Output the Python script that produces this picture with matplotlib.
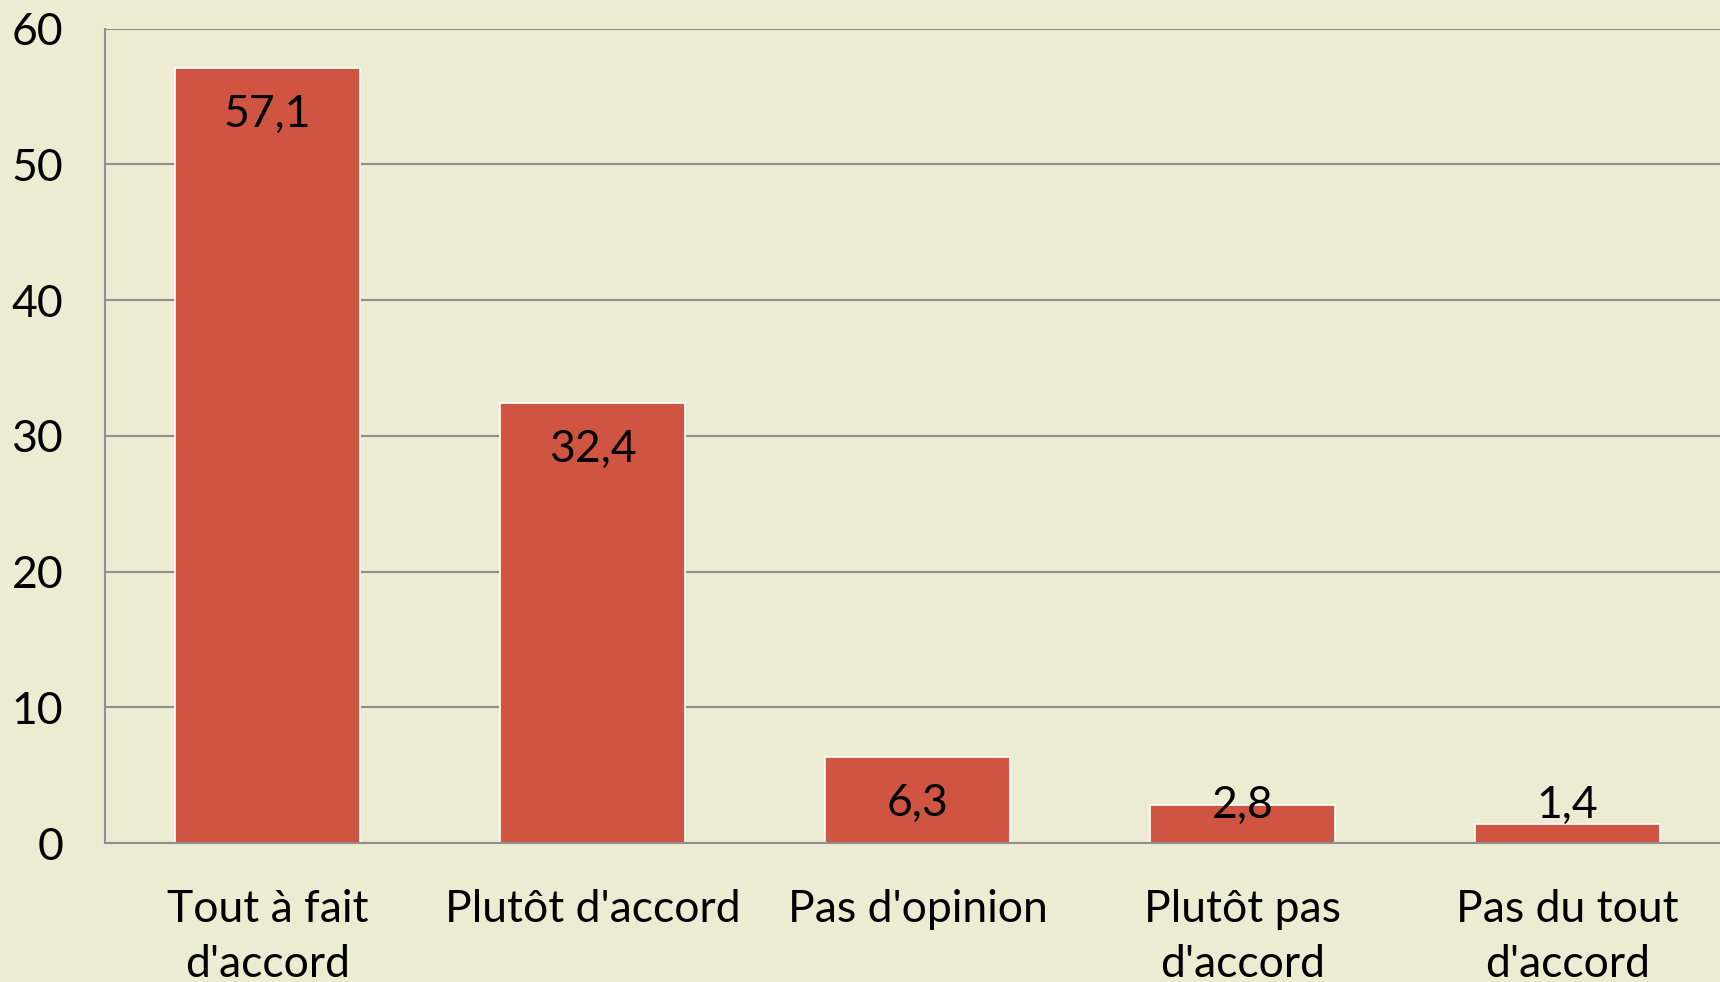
import matplotlib
matplotlib.use("Agg")
import matplotlib.pyplot as plt

categories = ["Tout à fait\nd'accord", "Plutôt d'accord", "Pas d'opinion",
              "Plutôt pas\nd'accord", "Pas du tout\nd'accord"]
values = [57.1, 32.4, 6.3, 2.8, 1.4]
value_labels = ["57,1", "32,4", "6,3", "2,8", "1,4"]
yticks = [0, 10, 20, 30, 40, 50, 60]

BG = "#ECECD2"
BAR = "#CF5441"
GRID = "#8F8F8F"

plt.rcParams['font.family'] = ['Lato', 'DejaVu Sans']
FS = 32

W, H = 1720, 982
fig = plt.figure(figsize=(W / 100, H / 100), dpi=100, facecolor=BG)
left, right, top, bottom = 105, 1730, 28.7, 843
ax = fig.add_axes([left / W, (H - bottom) / H, (right - left) / W, (bottom - top) / H])
ax.set_facecolor(BG)

x = list(range(len(values)))
ax.bar(x, values, width=0.572, color=BAR, edgecolor="white", linewidth=1.2, zorder=3)

for xi, v, lab in zip(x, values, value_labels):
    ax.text(xi, max(v - 3.4, 2.8), lab, ha="center", va="center",
            fontsize=FS, color="black", zorder=4)

ax.set_xlim(-0.5, len(values) - 0.5)
ax.set_ylim(0, 60)
ax.set_yticks(yticks)
ax.set_yticklabels([str(t) for t in yticks], fontsize=FS)
ax.set_xticks(x)
ax.set_xticklabels(categories, fontsize=FS, linespacing=1.44)
ax.tick_params(axis="y", length=0, pad=30)
ax.tick_params(axis="x", length=0, pad=33)
ax.grid(axis="y", color=GRID, linewidth=1.5, zorder=0)
ax.set_axisbelow(True)
for s in ["top", "right"]:
    ax.spines[s].set_visible(False)
for s in ["left", "bottom"]:
    ax.spines[s].set_color(GRID)
    ax.spines[s].set_linewidth(1.5)
    ax.spines[s].set_zorder(5)

fig.savefig("out.png", dpi=100, facecolor=BG)
